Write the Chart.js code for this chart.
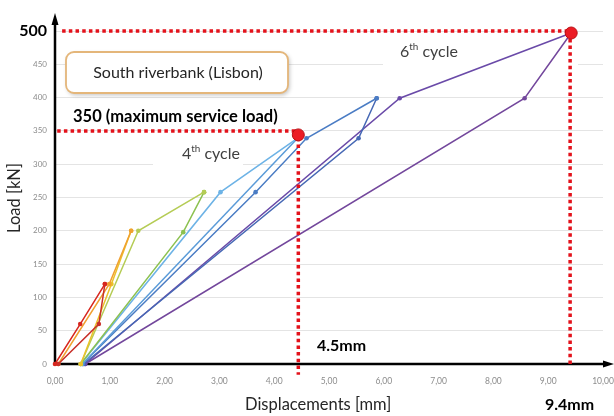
<!DOCTYPE html>
<html>
<head>
<meta charset="utf-8">
<script src="https://cdn.jsdelivr.net/npm/chart.js@4.4.1/dist/chart.umd.min.js"></script>
<style>
  html, body { margin: 0; padding: 0; background: #fff; }
  #wrap { width: 614px; height: 416px; }
</style>
</head>
<body>
<div id="wrap"><canvas id="chart" width="614" height="416"></canvas></div>
<script>
// Load-displacement cycles, [displacement mm, load kN]
const cycle1Load   = [[0, 0], [0.46, 60], [0.91, 120]];
const cycle1Unload = [[0.91, 120], [0.80, 60], [0.06, 0]];
const cycle2Load   = [[0.06, 0], [0.99, 120], [1.39, 200]];
const cycle2Unload = [[1.39, 200], [1.03, 120], [0.47, 0]];
const cycle3Load   = [[0.47, 0], [1.52, 200], [2.72, 258]];
const cycle3Unload = [[2.72, 258], [2.34, 198], [0.47, 0]];
const cycle4Load   = [[0.47, 0], [3.02, 258], [4.44, 340]];
const cycle4Unload = [[4.44, 340], [0.50, 0]];
const cycle5Load   = [[0.50, 0], [3.66, 258], [4.59, 339], [5.87, 399]];
const cycle5Unload = [[5.87, 399], [5.54, 339], [0.52, 0]];
const cycle6Load   = [[0.55, 0], [6.29, 399], [9.42, 497]];
const cycle6Unload = [[9.42, 497], [8.57, 399], [0.55, 0]];

const cycleSeries = [cycle1Load, cycle1Unload, cycle2Load, cycle2Unload, cycle3Load, cycle3Unload,
                     cycle4Load, cycle4Unload, cycle5Load, cycle5Unload, cycle6Load, cycle6Unload];
const cycleColors = ['#d7261e', '#c8302a', '#f0a030', '#ebc22a', '#b5cc55', '#8cc150',
                     '#6db3e6', '#5a9bd8', '#4a7cc4', '#4668b5', '#6a4aa8', '#73479c'];

// Reference lines (maximum service load and peak load) and their marked points
const serviceLoadLine = [[0.04, 350], [4.44, 350], [4.44, -16]];
const peakLoadLine    = [[0.13, 500], [9.40, 500], [9.40, -3]];
const keyPoints       = [[4.44, 344], [9.42, 497]];

const FONT = 'Lato, "Open Sans", sans-serif';
const toXY = arr => arr.map(p => ({ x: p[0], y: p[1] }));

const datasets = [
    {
        data: toXY(keyPoints), showLine: false, order: 0, clip: false,
        pointRadius: 6, pointBackgroundColor: '#ec1c24', pointBorderColor: '#b80f14', pointBorderWidth: 1
    },
    {
        data: toXY(serviceLoadLine), showLine: true, order: 1, clip: false,
        borderColor: '#e3121b', borderWidth: 3.5, borderDash: [3.5, 3.2], pointRadius: 0
    },
    {
        data: toXY(peakLoadLine), showLine: true, order: 1, clip: false,
        borderColor: '#e3121b', borderWidth: 3.5, borderDash: [3.5, 3.2], pointRadius: 0
    }
];

cycleSeries.forEach((s, i) => {
    datasets.push({
        data: toXY(s), showLine: true, order: 2, clip: false,
        borderColor: cycleColors[i], borderWidth: 1.5,
        pointRadius: 2.3, pointBorderWidth: 0, pointBackgroundColor: cycleColors[i]
    });
});

function supText(ctx, base, sup, rest, x, y, size) {
    ctx.font = `${size}px ${FONT}`;
    ctx.fillText(base, x, y);
    let w = ctx.measureText(base).width;
    ctx.font = `${size * 0.62}px ${FONT}`;
    ctx.fillText(sup, x + w, y - size * 0.35);
    w += ctx.measureText(sup).width;
    ctx.font = `${size}px ${FONT}`;
    ctx.fillText(rest, x + w, y);
}

const decor = {
    id: 'decor',
    beforeDatasetsDraw(chart) {
        const { ctx, chartArea: a } = chart;
        ctx.save();
        // white patches behind the cycle labels
        ctx.fillStyle = '#fff';
        ctx.fillRect(153, 140, 90, 30);
        ctx.fillRect(383, 38, 195, 32);

        // site label box
        ctx.shadowColor = 'rgba(0,0,0,0.25)';
        ctx.shadowBlur = 4;
        ctx.shadowOffsetX = 1.5;
        ctx.shadowOffsetY = 2;
        ctx.beginPath();
        ctx.roundRect(66, 52, 222, 41, 8);
        ctx.fillStyle = '#fff';
        ctx.fill();
        ctx.shadowColor = 'transparent';
        ctx.strokeStyle = '#e4b67a';
        ctx.lineWidth = 1.8;
        ctx.stroke();

        // axes with arrows
        ctx.strokeStyle = '#000';
        ctx.fillStyle = '#000';
        ctx.lineWidth = 2.5;
        ctx.beginPath();
        ctx.moveTo(a.left, a.bottom + 1.2);
        ctx.lineTo(a.left, 22);
        ctx.moveTo(a.left - 1.2, a.bottom);
        ctx.lineTo(606, a.bottom);
        ctx.stroke();
        ctx.beginPath();
        ctx.moveTo(a.left, 13);
        ctx.lineTo(a.left - 3.5, 25);
        ctx.lineTo(a.left + 3.5, 25);
        ctx.closePath();
        ctx.fill();
        ctx.beginPath();
        ctx.moveTo(614, a.bottom);
        ctx.lineTo(603, a.bottom - 3.5);
        ctx.lineTo(603, a.bottom + 3.5);
        ctx.closePath();
        ctx.fill();
        ctx.restore();
    },
    afterDatasetsDraw(chart) {
        const { ctx } = chart;
        ctx.save();
        ctx.textBaseline = 'middle';
        ctx.textAlign = 'center';
        ctx.fillStyle = '#262626';
        ctx.font = `16px ${FONT}`;
        ctx.fillText('South riverbank (Lisbon)', 178, 73);

        ctx.textAlign = 'left';
        ctx.fillStyle = '#000';
        ctx.font = `bold 16.5px ${FONT}`;
        ctx.fillText('350 (maximum service load)', 73, 117);
        ctx.font = `bold 16px ${FONT}`;
        ctx.fillText('4.5mm', 317, 346);
        ctx.fillText('9.4mm', 545, 405);

        ctx.fillStyle = '#404040';
        supText(ctx, '4', 'th', ' cycle', 182, 154, 16);
        supText(ctx, '6', 'th', ' cycle', 400, 52, 16);

        ctx.fillStyle = '#262626';
        ctx.font = `16.5px ${FONT}`;
        ctx.fillText('Displacements [mm]', 245, 405);

        ctx.translate(15, 198);
        ctx.rotate(-Math.PI / 2);
        ctx.textAlign = 'center';
        ctx.fillText('Load [kN]', 0, 0);
        ctx.restore();
    }
};

new Chart(document.getElementById('chart'), {
    type: 'scatter',
    data: { datasets },
    plugins: [decor],
    options: {
        responsive: false,
        animation: false,
        layout: { padding: { left: 0, top: 31, right: 11, bottom: 0 } },
        plugins: { legend: { display: false }, tooltip: { enabled: false } },
        scales: {
            x: {
                type: 'linear', min: 0, max: 10,
                afterFit: s => { s.height = 52; s.paddingLeft = 0; s.paddingRight = 0; },
                border: { display: false },
                grid: { display: false },
                ticks: {
                    stepSize: 1, padding: 4.5, color: '#8c8c8c',
                    font: { family: FONT, size: 8.5 },
                    maxRotation: 0,
                    callback: v => v.toFixed(2).replace('.', ',')
                }
            },
            y: {
                type: 'linear', min: 0, max: 500,
                afterFit: s => { s.width = 55; s.paddingTop = 0; s.paddingBottom = 0; },
                border: { display: false },
                grid: { color: '#e4e4e4', lineWidth: 1, drawTicks: false },
                ticks: {
                    stepSize: 50, padding: 8,
                    color: c => (c.tick && c.tick.value === 500) ? '#000' : '#8c8c8c',
                    font: c => (c.tick && c.tick.value === 500)
                        ? { family: FONT, size: 16, weight: 'bold' }
                        : { family: FONT, size: 8 }
                }
            }
        }
    }
});
</script>
</body>
</html>
